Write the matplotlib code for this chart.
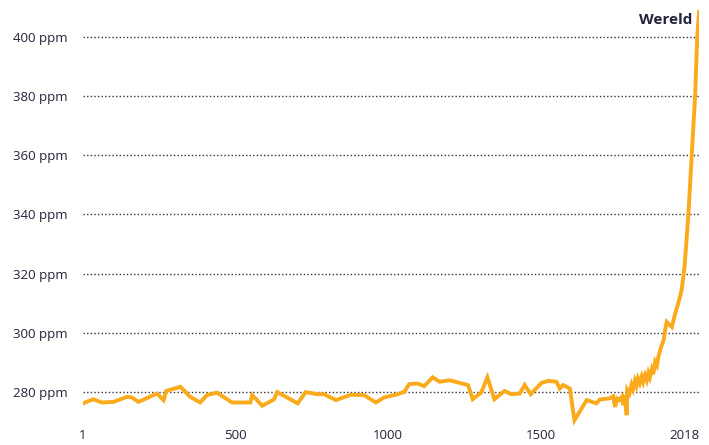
import matplotlib
matplotlib.use("Agg")
import matplotlib.pyplot as plt

years = [1, 35, 62, 101, 145, 161, 183, 243, 265, 274, 320, 352, 385, 407, 440,
         489, 549, 555, 588, 626, 637, 704, 730, 768, 790, 829, 878, 921, 960, 987,
         1031, 1053, 1069, 1097, 1118, 1146, 1168, 1201, 1250, 1262, 1277, 1305,
         1325, 1348, 1381, 1403, 1431, 1447, 1467, 1502, 1524, 1551, 1562, 1573,
         1595, 1610, 1650, 1682, 1693, 1726, 1737, 1743, 1750, 1757, 1766, 1770,
         1775, 1781, 1783, 1790, 1797, 1802, 1808, 1813, 1818, 1824, 1830, 1835,
         1841, 1847, 1852, 1857, 1863, 1868, 1874, 1880, 1885, 1894, 1902, 1907,
         1912, 1929, 1940, 1950, 1961, 1970, 1976, 1983, 1994, 2005, 2012, 2018]
ppm = [276.2, 277.6, 276.5, 276.7, 278.4, 278.2, 276.7, 279.5, 277.3, 280.4,
       281.8, 278.4, 276.5, 279.0, 279.8, 276.5, 276.5, 279.0, 275.4, 277.5,
       280.0, 276.2, 280.0, 279.3, 279.3, 277.3, 279.1, 279.0, 276.5, 278.2,
       279.3, 280.1, 282.7, 282.9, 282.0, 285.0, 283.5, 284.0, 282.7, 282.3,
       277.6, 279.9, 285.0, 277.6, 280.4, 279.3, 279.5, 282.4, 279.3, 283.1,
       283.8, 283.5, 281.2, 282.4, 281.2, 270.5, 277.3, 276.2, 277.5, 277.9,
       278.6, 275.0, 277.8, 277.3, 278.5, 275.6,
       279.0, 272.2, 280.7, 279.5, 282.5, 281.0, 283.8, 282.2, 284.6, 283.0,
       285.2, 283.4, 285.7, 284.0, 286.5, 285.0, 287.6, 286.0, 290.2, 289.0,
       292.0, 295.3, 297.6, 301.0, 303.7, 302.0, 306.6, 310.0, 314.5, 322.0,
       330.0, 340.0, 360.0, 380.0, 400.0, 408.4]

x_ticks = [1, 500, 1000, 1500, 2018]
x_labels = ["1", "500", "1000", "1500", "2018"]
y_ticks = [280, 300, 320, 340, 360, 380, 400]
y_labels = [f"{v} ppm" for v in y_ticks]
series_label = "Wereld"

plt.rcParams['font.family'] = ['Open Sans', 'DejaVu Sans']
text_color = '#23233a'

fig = plt.figure(figsize=(7.09, 4.45), dpi=100)
ax = fig.add_axes([0.117, 0.039, 0.869, 0.945])

for v in y_ticks:
    ax.axhline(v, color='#333333', linestyle=(0, (1, 1.6)), linewidth=1.0, zorder=1)

ax.plot(years, ppm, color='#FAAA1A', linewidth=2.8, solid_joinstyle='miter', zorder=3)

ax.set_xlim(1, 2018)
ax.set_ylim(268, 410)
ax.set_xticks(x_ticks)
ax.set_xticklabels(x_labels)
ax.set_yticks(y_ticks)
ax.set_yticklabels(y_labels)
ax.get_xticklabels()[-1].set_horizontalalignment('right')
ax.tick_params(axis='both', length=0, labelsize=9.5, colors=text_color)
ax.tick_params(axis='x', pad=1)
ax.tick_params(axis='y', pad=11)
for s in ax.spines.values():
    s.set_visible(False)

ax.text(0.976, 0.955, series_label, transform=fig.transFigure, ha='right', va='center',
        fontsize=11, fontweight='bold', color=text_color)

fig.savefig("out.png", dpi=100)
